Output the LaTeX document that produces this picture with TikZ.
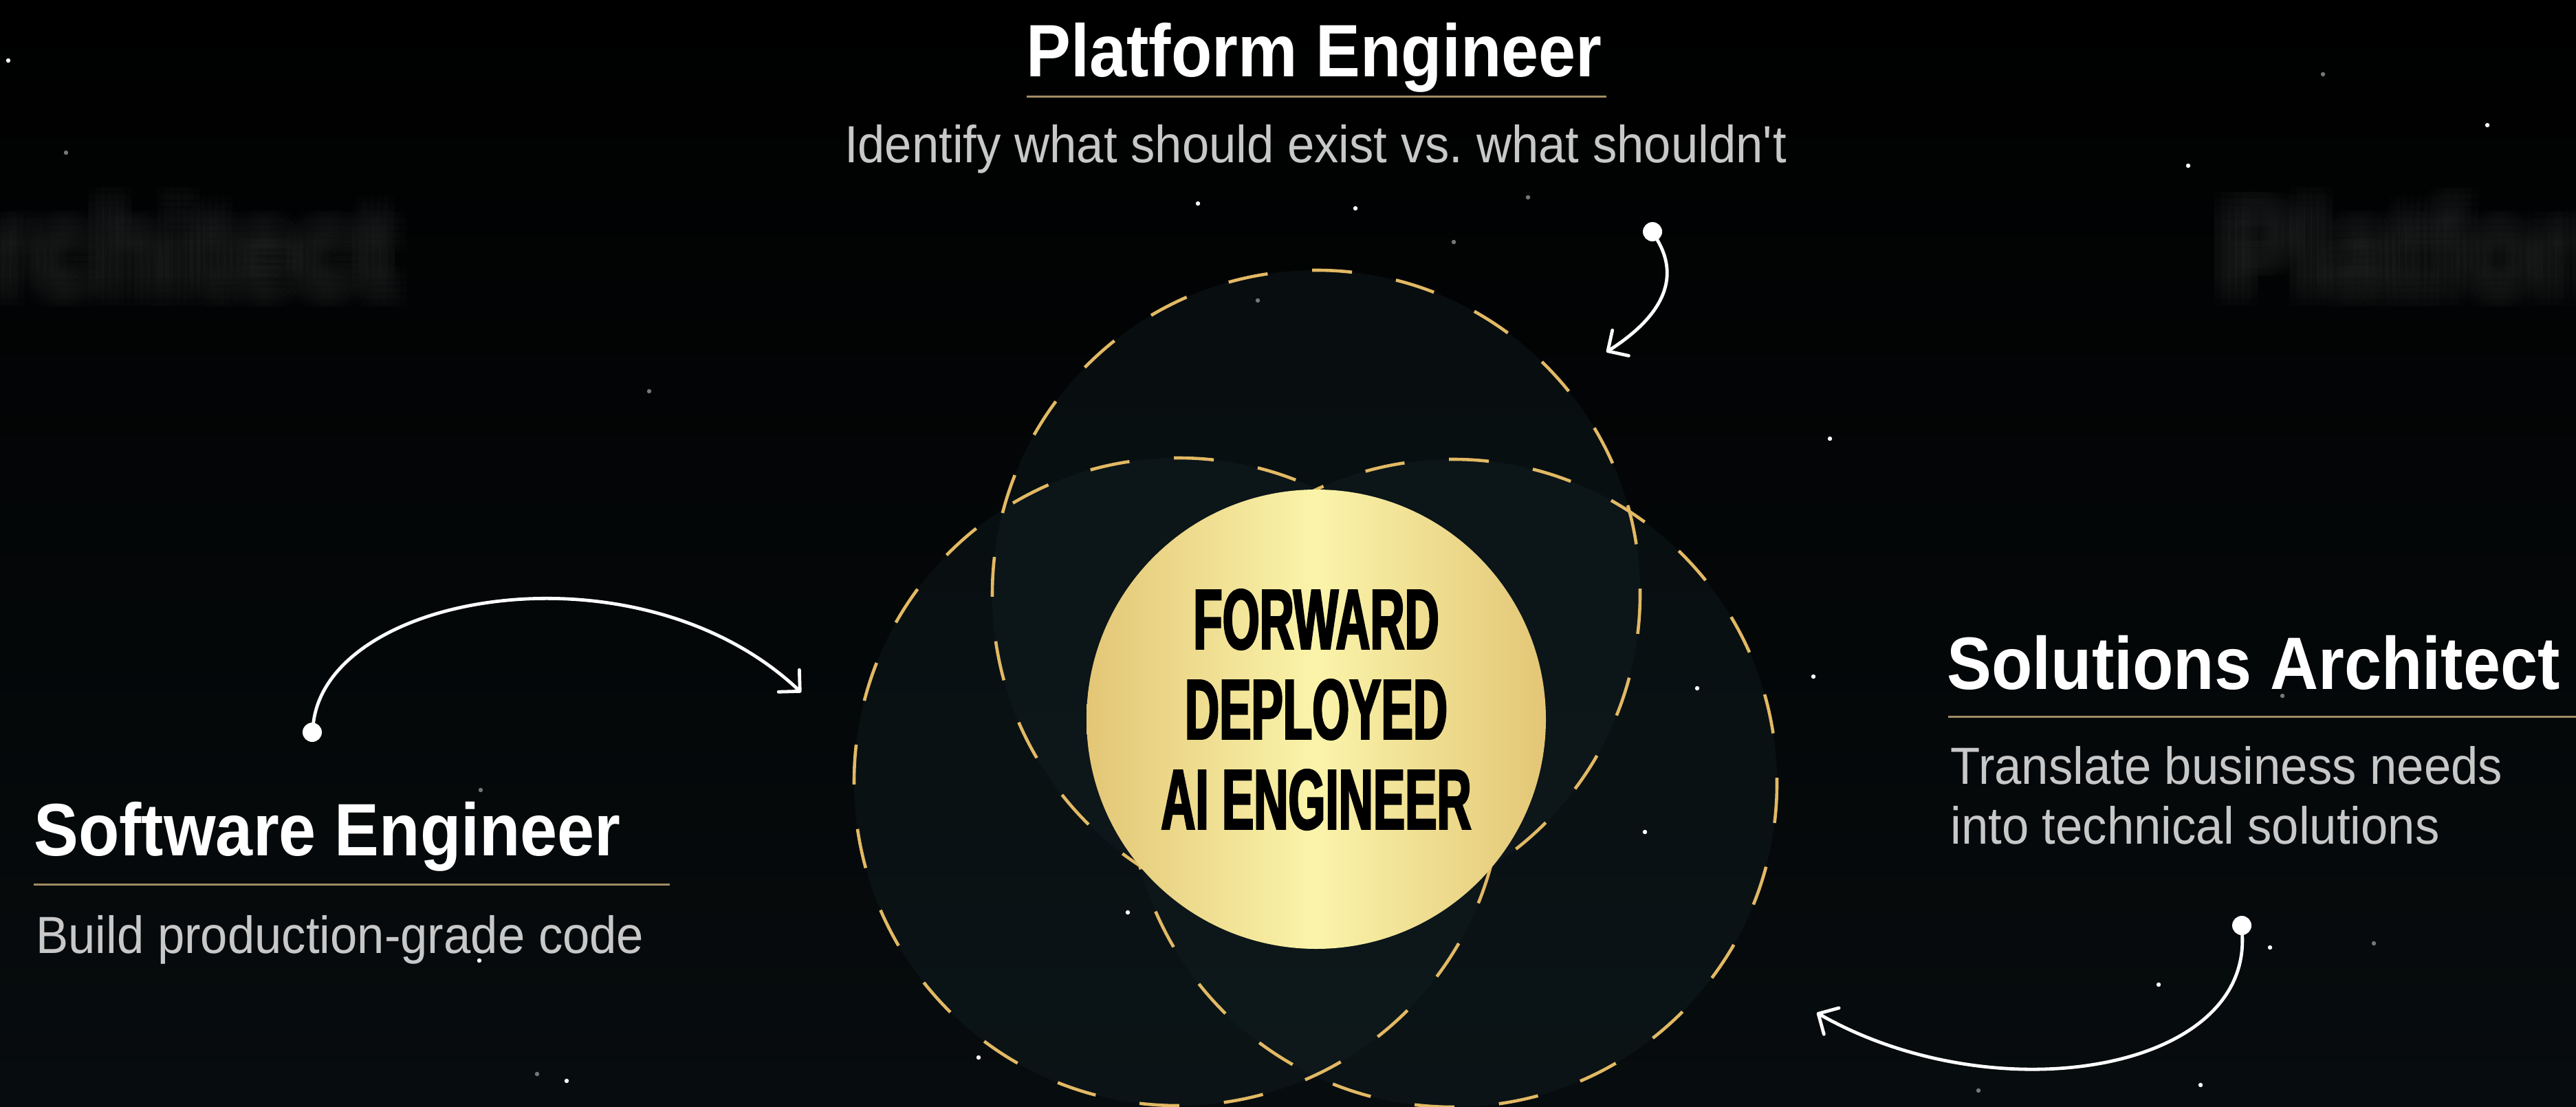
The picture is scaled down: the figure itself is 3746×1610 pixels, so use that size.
\documentclass[tikz,border=0pt]{standalone}
\usepackage{fontspec}
\setmainfont{Liberation Sans}
\newfontfamily\rolefont[FakeStretch=0.9]{Liberation Sans}
\newfontfamily\blurbfont[FakeStretch=0.93]{Liberation Sans}
\newfontfamily\badgefont[FakeStretch=0.56,FakeBold=2]{Liberation Sans}
\usetikzlibrary{arrows.meta,fadings}
\definecolor{bgbot}{HTML}{070C0E}
\definecolor{ringfill}{HTML}{142226}
\definecolor{golddark}{HTML}{E2B964}
\definecolor{goldlight}{HTML}{F8E79A}
\definecolor{goldedge}{HTML}{E3C676}
\definecolor{goldmid}{HTML}{FAF4AA}
\definecolor{rulegold}{HTML}{A08C64}
\definecolor{blurbgray}{HTML}{C8C8C8}
\definecolor{ghostgray}{HTML}{2A2B2B}
\definecolor{stargray}{HTML}{777777}
\tikzfading[name=midfade, left color=transparent!100, middle color=transparent!0, right color=transparent!100]
\begin{document}
\begin{tikzpicture}[x=0.5pt, y=-0.5pt,
    role/.style={text=white, inner sep=0, font=\rolefont\bfseries\fontsize{54}{60}\selectfont},
    blurb/.style={text=blurbgray, inner sep=0, font=\blurbfont\fontsize{38}{44}\selectfont},
    ghost/.style={text=ghostgray, text opacity=0.06, inner sep=0, font=\rolefont\bfseries\fontsize{91}{100}\selectfont},
    ring/.style={fill=ringfill, fill opacity=0.35},
    ringline/.style={line width=2.3pt, dash pattern=on 29pt off 32.5pt},
    badge/.style={align=center, inner sep=0, text=black, font=\badgefont\bfseries\fontsize{62}{65.5}\selectfont},
    dot/.style={circle, fill=white, inner sep=0, minimum size=14pt},
    pointer/.style={draw=white, line width=2.4pt, line cap=round, -{Straight Barb[length=11pt, width=22pt, round]}},
    rulebar/.style={draw=rulegold, line width=1.5pt}]
  \useasboundingbox (0,0) rectangle (3746,1610);
  \clip (0,0) rectangle (3746,1610);
  \shade[top color=black, bottom color=bgbot] (0,0) rectangle (3746,1610);

  \foreach \dx in {-20,-10,0,10,20}
    \foreach \dy in {-20,-10,0,10,20} {
      \node[ghost, anchor=base east] (archghost\dx\dy) at (575+\dx,425+\dy) {Architect};
      \node[ghost, anchor=base west] (platghost\dx\dy) at (3229+\dx,425+\dy) {Platform};
    }

  \coordinate (pe_c) at (1914,864);
  \coordinate (se_c) at (1713,1137);
  \coordinate (sa_c) at (2113,1139);
  \foreach \c in {pe_c,se_c,sa_c}
    \fill[ring] (\c) circle (471);
  \foreach \c in {pe_c,se_c,sa_c} {
    \draw[ringline, golddark] (\c) circle (471);
    \draw[ringline, goldlight, path fading=midfade] (\c) circle (471);
  }

  \node[circle, minimum size=334pt, inner sep=0, left color=goldedge, right color=goldedge, middle color=goldmid] (core) at (1914,1046) {};
  \node[badge] (fdae) at (1914,1032) {FORWARD\\DEPLOYED\\AI ENGINEER};

  \foreach \sx/\sy/\sc in {1742/296/white, 1971/303/white, 2661/638/white, 2637/984/white,
      3617/182/white, 3182/241/white, 2392/1210/white, 2468/1001/white, 1640/1327/white,
      1423/1538/white, 3301/1378/white, 3139/1432/white, 3200/1578/white, 824/1572/white,
      697/1397/white, 12/88/white, 96/222/stargray, 944/569/stargray, 2222/287/stargray,
      1829/437/stargray, 3378/108/stargray, 3319/1012/stargray, 3452/1372/stargray,
      2877/1586/stargray, 781/1562/stargray, 699/1149/stargray, 2114/352/stargray}
    \fill[\sc] (\sx,\sy) circle (3.2);

  \node[role, anchor=base] (pe_title) at (1911,112) {Platform Engineer};
  \draw[rulebar] (1493,141) -- (2336,141);
  \node[blurb, anchor=base] (pe_blurb) at (1913,237) {Identify what should exist vs.\ what shouldn\textquotesingle t};

  \node[role, anchor=base west] (se_title) at (49,1244) {Software Engineer};
  \draw[rulebar] (49,1286) -- (974,1286);
  \node[blurb, anchor=base west] (se_blurb) at (52,1386) {Build production-grade code};

  \node[role, anchor=base west] (sa_title) at (2831,1002) {Solutions Architect};
  \draw[rulebar] (2833,1042) -- (3746,1042);
  \node[blurb, anchor=base west] (sa_blurb1) at (2836,1140) {Translate business needs};
  \node[blurb, anchor=base west] (sa_blurb2) at (2836,1227) {into technical solutions};

  \node[dot] (pe_dot) at (2403,337) {};
  \coordinate (pe_tip) at (2336,512);
  \draw[pointer] (pe_dot) .. controls (2440,400) and (2425,455) .. (pe_tip);

  \node[dot] (se_dot) at (454,1065) {};
  \coordinate (se_tip) at (1165,1007);
  \draw[pointer] (se_dot) .. controls (480,860) and (930,785) .. (se_tip);

  \node[dot] (sa_dot) at (3260,1346) {};
  \coordinate (sa_tip) at (2642,1473);
  \draw[pointer] (sa_dot) .. controls (3270,1560) and (2900,1620) .. (sa_tip);
\end{tikzpicture}
\end{document}
